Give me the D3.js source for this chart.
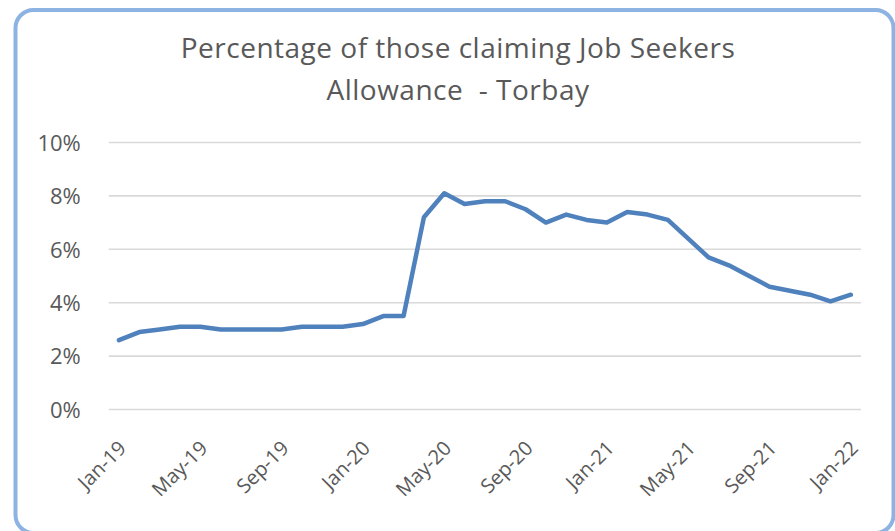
<!DOCTYPE html>
<html>
<head>
<meta charset="utf-8">
<script src="https://cdn.jsdelivr.net/npm/d3@7/dist/d3.min.js"></script>
<style>
  html, body { margin: 0; padding: 0; background: #fff; }
  svg { display: block; }
  text { font-family: "Open Sans", sans-serif; fill: #595959; }
</style>
</head>
<body>
<svg id="chart" width="895" height="531"></svg>
<script>
// Monthly claimant share, Jan 2019 – Jan 2022
const months = [
  "Jan-19","Feb-19","Mar-19","Apr-19","May-19","Jun-19","Jul-19","Aug-19","Sep-19","Oct-19","Nov-19","Dec-19",
  "Jan-20","Feb-20","Mar-20","Apr-20","May-20","Jun-20","Jul-20","Aug-20","Sep-20","Oct-20","Nov-20","Dec-20",
  "Jan-21","Feb-21","Mar-21","Apr-21","May-21","Jun-21","Jul-21","Aug-21","Sep-21","Oct-21","Nov-21","Dec-21",
  "Jan-22"
];
const claimantPct = [
  2.6, 2.9, 3.0, 3.1, 3.1, 3.0, 3.0, 3.0, 3.0, 3.1, 3.1, 3.1,
  3.2, 3.5, 3.5, 7.2, 8.1, 7.7, 7.8, 7.8, 7.5, 7.0, 7.3, 7.1,
  7.0, 7.4, 7.3, 7.1, 6.4, 5.7, 5.4, 5.0, 4.6, 4.45, 4.3, 4.05,
  4.3
];
const yTicks = [0, 2, 4, 6, 8, 10];
const xTickLabels = ["Jan-19","May-19","Sep-19","Jan-20","May-20","Sep-20","Jan-21","May-21","Sep-21","Jan-22"];
const titleLines = ["Percentage of those claiming Job Seekers", "Allowance  - Torbay"];

const svg = d3.select("#chart");

// chart frame
svg.append("rect")
  .attr("x", 15.5).attr("y", 10)
  .attr("width", 878).attr("height", 523)
  .attr("rx", 18).attr("ry", 18)
  .attr("fill", "#fff")
  .attr("stroke", "#8db3e2")
  .attr("stroke-width", 4);

const plot = { left: 108.8, right: 861, top: 142.5, bottom: 409.5 };

const x = d3.scalePoint()
  .domain(months)
  .range([plot.left, plot.right])
  .padding(0.5);

const y = d3.scaleLinear()
  .domain([0, 10])
  .range([plot.bottom, plot.top]);

// horizontal gridlines
svg.append("g")
  .selectAll("line")
  .data(yTicks)
  .join("line")
  .attr("x1", plot.left).attr("x2", plot.right)
  .attr("y1", d => y(d)).attr("y2", d => y(d))
  .attr("stroke", "#d9d9d9")
  .attr("stroke-width", 1.6);

// y axis labels
const yAxis = d3.axisLeft(y)
  .tickValues(yTicks)
  .tickFormat(d => d + "%")
  .tickSize(0)
  .tickPadding(0);
const gy = svg.append("g")
  .attr("transform", `translate(${plot.left - 28},0)`)
  .call(yAxis);
gy.select(".domain").remove();
gy.selectAll("text")
  .attr("font-size", 22)
  .attr("dy", "0.35em")
  .style("font-family", "'Open Sans', sans-serif")
  .attr("fill", "#595959");

// x axis labels
const xAxis = d3.axisBottom(x)
  .tickValues(xTickLabels)
  .tickSize(0)
  .tickPadding(0);
const gx = svg.append("g")
  .attr("transform", `translate(0,${plot.bottom})`)
  .call(xAxis);
gx.select(".domain").remove();
gx.selectAll("text")
  .attr("font-size", 20)
  .attr("text-anchor", "end")
  .attr("dy", "0.35em")
  .attr("transform", "translate(3,35) rotate(-45)")
  .style("font-family", "'Open Sans', sans-serif")
  .attr("fill", "#595959");

// data line
const line = d3.line()
  .x((d, i) => x(months[i]))
  .y(d => y(d));
svg.append("path")
  .datum(claimantPct)
  .attr("d", line)
  .attr("fill", "none")
  .attr("stroke", "#4f81bd")
  .attr("stroke-width", 4.5)
  .attr("stroke-linejoin", "round")
  .attr("stroke-linecap", "round");

// title
svg.append("g")
  .selectAll("text")
  .data(titleLines)
  .join("text")
  .attr("x", 458)
  .attr("y", (d, i) => 58 + i * 42)
  .attr("text-anchor", "middle")
  .attr("font-size", 28)
  .attr("letter-spacing", 0.5)
  .style("white-space", "pre")
  .text(d => d);
</script>
</body>
</html>
